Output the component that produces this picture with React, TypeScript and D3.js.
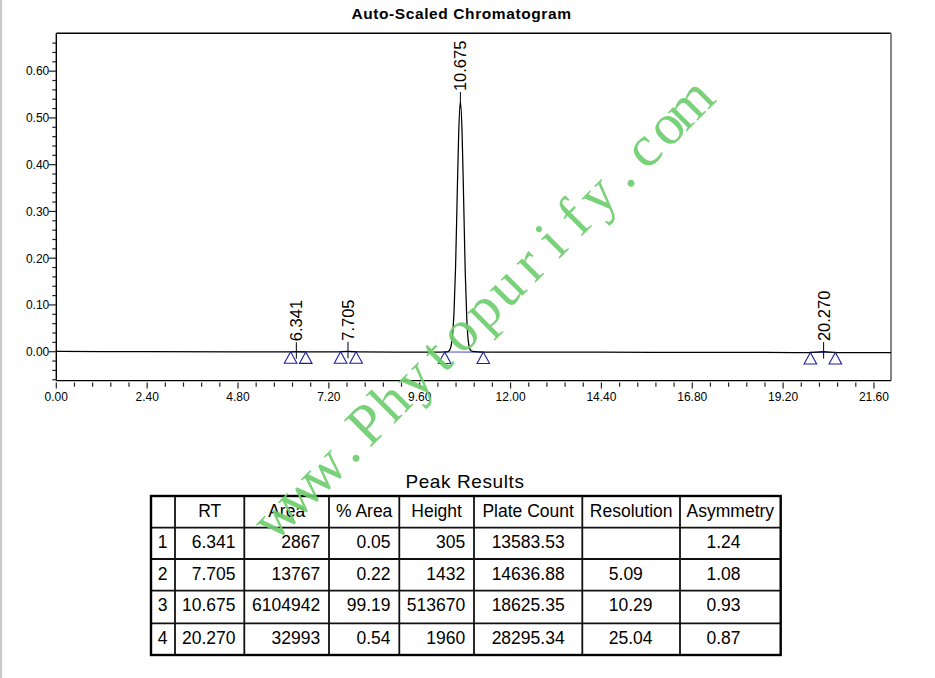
import React from "react";
import * as d3 from "d3";

const W = 935;
const H = 678;

// Integrated peaks (retention time in minutes) and their integration limits
const peakRT = [6.341, 7.705, 10.675, 20.27];
const peakStart = [6.19, 7.51, 10.26, 19.92];
const peakEnd = [6.59, 7.92, 11.28, 20.58];

// Peak results table
const peakArea = [2867, 13767, 6104942, 32993];
const peakPctArea = [0.05, 0.22, 99.19, 0.54];
const peakHeight = [305, 1432, 513670, 1960];
const peakPlates = [13583.53, 14636.88, 18625.35, 28295.34];
const peakResolution: (number | null)[] = [null, 5.09, 10.29, 25.04];
const peakAsymmetry = [1.24, 1.08, 0.93, 0.87];
const tableHeaders = ["", "RT", "Area", "% Area", "Height", "Plate Count", "Resolution", "Asymmetry"];

// Detector trace: time (min) and response (AU)
const traceTime = [
  0.0, 1.2, 2.4, 4.8, 6.1, 6.341, 6.6, 7.4, 7.705, 8.0, 10.0, 10.3,
  10.36, 10.41, 10.46, 10.505, 10.547, 10.588, 10.631, 10.675,
  10.719, 10.762, 10.803, 10.844, 10.885, 10.935, 10.99,
  11.3, 14.4, 17.0, 19.9, 20.27, 20.6, 22.05,
];
const traceAU = [
  0.0006, 0.0004, 0.0, -0.0002, -0.0003, 0.0, -0.0004, -0.0005, 0.0009, -0.0006, -0.0007, -0.0006,
  0.001, 0.007, 0.03, 0.082, 0.18, 0.325, 0.47, 0.535,
  0.47, 0.32, 0.17, 0.07, 0.022, 0.004, 0.0005,
  -0.0008, -0.0011, -0.0014, -0.0017, 0.0003, -0.0018, -0.002,
];

// Axis tick labels
const xTickLabels = ["0.00", "2.40", "4.80", "7.20", "9.60", "12.00", "14.40", "16.80", "19.20", "21.60"];
const yTickLabels = ["0.00", "0.10", "0.20", "0.30", "0.40", "0.50", "0.60"];

const watermark = "www.Phytopurify.com";

export default function App() {
  const left = 56.3;
  const right = 891;
  const top = 33.3;
  const bottom = 380.7;

  const x = d3.scaleLinear().domain([0, 22.05]).range([left, right]);
  const y = d3.scaleLinear().domain([-0.062, 0.681]).range([bottom, top]);

  const pts: [number, number][] = traceTime.map((t, i) => [t, traceAU[i]]);
  const line = d3
    .line<[number, number]>()
    .x((d) => x(d[0]))
    .y((d) => y(d[1]))
    .curve(d3.curveMonotoneX);
  const auAt = d3.scaleLinear().domain(traceTime).range(traceAU);

  const xMinor = d3.range(0, 21.61, 0.48);
  const yMinor = d3.range(-0.06, 0.661, 0.02);

  // table layout
  const colEdges = [151, 175, 244.3, 329, 399.3, 474, 582.3, 680, 780.7];
  const rowEdges = [496, 527.7, 559, 590.7, 623.3, 655];
  const fs = 17.5;
  const rows = peakRT.map((rt, i) => [
    String(i + 1),
    rt.toFixed(3).padStart(6, "\u2007"),
    String(peakArea[i]),
    peakPctArea[i].toFixed(2),
    String(peakHeight[i]),
    peakPlates[i].toFixed(2),
    peakResolution[i] == null ? "" : (peakResolution[i] as number).toFixed(2),
    peakAsymmetry[i].toFixed(2),
  ]);
  // alignment per column: anchor and x position
  const cellPos = (c: number): [string, number] => {
    const l = colEdges[c];
    const r = colEdges[c + 1];
    if (c === 0) return ["middle", (l + r) / 2 - 0.5];
    if (c >= 1 && c <= 4) return ["end", r - 8.8];
    if (c === 5) return ["middle", (l + r) / 2];
    return ["start", l + 26.5];
  };

  // watermark layout along a -45° line
  const step = 32.4;
  const ux = Math.SQRT1_2;
  const uy = -Math.SQRT1_2;
  const wmX0 = 358;
  const wmY0 = 460;

  const sans = "Liberation Sans, Arial, sans-serif";

  return (
    <div style={{ position: "absolute", left: 0, top: 0 }}>
      <svg width={W} height={H} style={{ display: "block", background: "#fff" }}>
        <rect x={0} y={0} width={W} height={H} fill="#fff" />
        <rect x={0} y={0} width={2.2} height={H} fill="#c7ccc6" />

        {/* title */}
        <text
          x={461.5}
          y={18.7}
          textAnchor="middle"
          fontFamily={sans}
          fontWeight="bold"
          fontSize={15.5}
          letterSpacing={0.6}
          fill="#000"
        >
          Auto-Scaled Chromatogram
        </text>

        {/* frame */}
        <line x1={left} x2={right} y1={top} y2={top} stroke="#000" strokeWidth={1.4} />
        <line x1={right} x2={right} y1={top} y2={bottom} stroke="#858585" strokeWidth={2} />
        <line x1={left} x2={left} y1={top} y2={bottom} stroke="#000" strokeWidth={1.4} />
        <line x1={left} x2={right} y1={bottom} y2={bottom} stroke="#000" strokeWidth={1.2} />

        {/* y ticks */}
        {yMinor.map((v, i) => {
          const major = Math.abs(Math.round(v * 100) % 10) === 0;
          return (
            <line
              key={"ym" + i}
              x1={major ? left - 7.5 : left - 4}
              x2={left}
              y1={y(v)}
              y2={y(v)}
              stroke="#222"
              strokeWidth={1.2}
            />
          );
        })}
        {yTickLabels.map((lab) => (
          <text
            key={"yl" + lab}
            x={left - 7}
            y={y(parseFloat(lab))}
            dy="0.36em"
            textAnchor="end"
            fontFamily={sans}
            fontSize={12}
            fill="#000"
          >
            {lab}
          </text>
        ))}

        {/* x ticks */}
        {xMinor.map((v, i) => {
          const major = i % 5 === 0;
          return (
            <line
              key={"xm" + i}
              x1={x(v)}
              x2={x(v)}
              y1={bottom + 1.8}
              y2={major ? bottom + 7.8 : bottom + 6}
              stroke="#222"
              strokeWidth={1.2}
            />
          );
        })}
        {xTickLabels.map((lab) => (
          <text
            key={"xl" + lab}
            x={x(parseFloat(lab))}
            y={401.3}
            textAnchor="middle"
            fontFamily={sans}
            fontSize={12}
            fill="#000"
          >
            {lab}
          </text>
        ))}

        {/* integration baselines */}
        {peakRT.map((_, i) => (
          <line
            key={"bl" + i}
            x1={x(peakStart[i])}
            x2={x(peakEnd[i])}
            y1={y(auAt(peakStart[i]))}
            y2={y(auAt(peakEnd[i]))}
            stroke="#5a5ac8"
            strokeWidth={1.2}
          />
        ))}

        {/* trace */}
        <path d={line(pts) ?? ""} fill="none" stroke="#000" strokeWidth={1.25} />

        {/* peak start / end markers */}
        {peakRT.flatMap((_, i) =>
          [peakStart[i], peakEnd[i]].map((t, j) => {
            const cx = x(t);
            const cy = y(auAt(t));
            return (
              <path
                key={"tri" + i + "-" + j}
                d={`M${cx},${cy}L${cx - 6.3},${cy + 11.5}L${cx + 6.3},${cy + 11.5}Z`}
                fill="none"
                stroke="#1f1f9a"
                strokeWidth={1.1}
              />
            );
          })
        )}

        {/* peak labels */}
        {peakRT.map((rt, i) => {
          const px = x(rt);
          const py = y(auAt(rt));
          return (
            <g key={"pl" + i}>
              <line x1={px} x2={px} y1={py - 9.5} y2={py + 7} stroke="#000" strokeWidth={1} />
              <text
                transform={`translate(${px},${py - 10.5}) rotate(-90)`}
                dy="0.36em"
                textAnchor="start"
                fontFamily={sans}
                fontSize={16.5}
                fill="#000"
              >
                {rt.toFixed(3)}
              </text>
            </g>
          );
        })}

        {/* peak results table */}
        <text
          x={465}
          y={488.3}
          textAnchor="middle"
          fontFamily={sans}
          fontSize={19}
          letterSpacing={0.6}
          fill="#000"
        >
          Peak Results
        </text>
        {colEdges.slice(1, -1).map((cx, i) => (
          <line key={"cv" + i} x1={cx} x2={cx} y1={rowEdges[0]} y2={rowEdges[rowEdges.length - 1]} stroke="#111" strokeWidth={1.8} />
        ))}
        {rowEdges.slice(1, -1).map((ry, i) => (
          <line key={"rh" + i} x1={colEdges[0]} x2={colEdges[colEdges.length - 1]} y1={ry} y2={ry} stroke="#111" strokeWidth={1.8} />
        ))}
        <rect
          x={colEdges[0]}
          y={rowEdges[0]}
          width={colEdges[colEdges.length - 1] - colEdges[0]}
          height={rowEdges[rowEdges.length - 1] - rowEdges[0]}
          fill="none"
          stroke="#000"
          strokeWidth={2.4}
        />
        {tableHeaders.map((h, c) => (
          <text
            key={"th" + c}
            x={(colEdges[c] + colEdges[c + 1]) / 2}
            y={rowEdges[0] + 20.7}
            textAnchor="middle"
            fontFamily={sans}
            fontSize={fs}
            fill="#000"
          >
            {h}
          </text>
        ))}
        {rows.map((row, r) =>
          row.map((val, c) => {
            const [anchor, tx] = cellPos(c);
            return (
              <text
                key={"td" + r + "-" + c}
                x={tx}
                y={rowEdges[r + 1] + 20.7}
                textAnchor={anchor as any}
                fontFamily={sans}
                fontSize={fs}
                fill="#000"
                style={{ whiteSpace: "pre" }}
              >
                {val}
              </text>
            );
          })
        )}

        {/* watermark */}
        <g opacity={0.92}>
          {watermark.split("").map((ch, i) => {
            const d = (i - 3) * step;
            const tx = wmX0 + d * ux;
            const ty = wmY0 + d * uy;
            return (
              <text
                key={"wm" + i}
                transform={`translate(${tx},${ty}) rotate(-45)`}
                textAnchor="middle"
                fontFamily="Liberation Serif, Times New Roman, serif"
                fontSize={58}
                fill="#6dcd6d"
              >
                {ch}
              </text>
            );
          })}
        </g>
      </svg>
    </div>
  );
}
